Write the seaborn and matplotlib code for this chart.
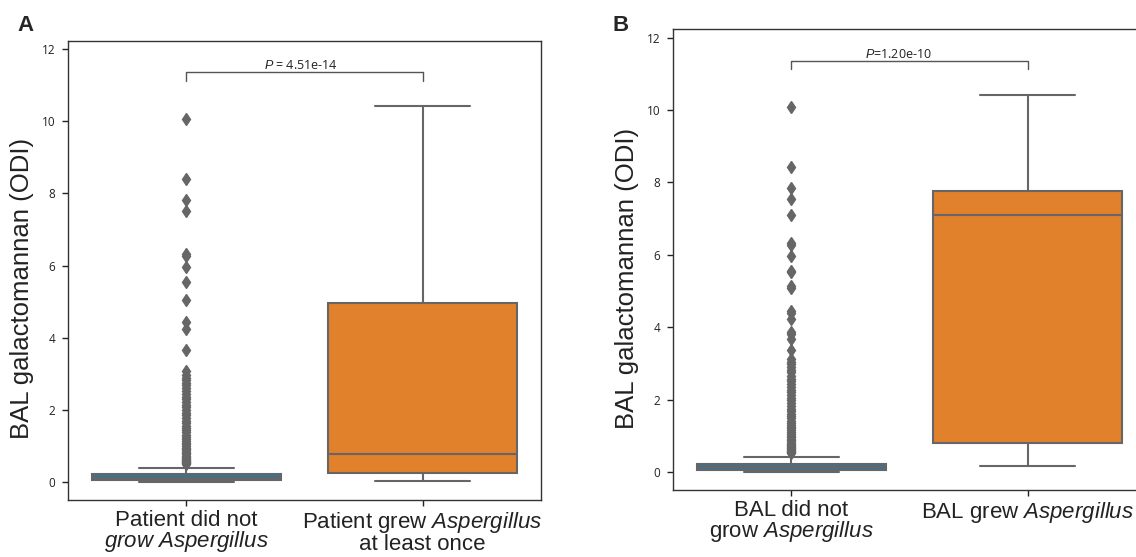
import numpy as np
import pandas as pd
import matplotlib
matplotlib.use('Agg')
import matplotlib.pyplot as plt
import seaborn as sns

sns.set_style('ticks')
plt.rcParams['font.family'] = ['Open Sans', 'DejaVu Sans']
plt.rcParams['mathtext.fontset'] = 'custom'
plt.rcParams['mathtext.rm'] = 'Liberation Sans'
plt.rcParams['mathtext.it'] = 'Liberation Sans:italic'

# ---- data (ODI values) ----
# panel A: per patient
a_labels = ['Patient did not\n$\\mathit{grow}$ $\\mathit{Aspergillus}$',
            'Patient grew $\\mathit{Aspergillus}$\nat least once']
a_neg_core_vals = [0.0, 0.02, 0.04, 0.05, 0.07, 0.09, 0.11, 0.14, 0.18, 0.22, 0.27, 0.33, 0.39]
a_neg_core_counts = [12, 30, 40, 30, 40, 40, 40, 30, 30, 30, 15, 10, 5]
a_neg_outliers = [10.07, 8.41, 7.82, 7.51, 6.32, 6.27, 5.95, 5.55, 5.04, 4.45, 4.25, 3.66,
                  3.07, 2.98, 2.9, 2.83, 2.75, 2.68, 2.6, 2.52, 2.45, 2.36, 2.3, 2.22, 2.15,
                  2.08, 2.0, 1.92, 1.85, 1.78, 1.7, 1.63, 1.55, 1.5, 1.45, 1.38, 1.32, 1.26,
                  1.2, 1.15, 1.1, 1.05, 1.0, 0.96, 0.92, 0.88, 0.84, 0.8, 0.77, 0.74, 0.71,
                  0.68, 0.65, 0.62, 0.6, 0.58, 0.56, 0.54, 0.52, 0.5]
a_pos_vals = [0.04, 0.15, 0.25, 0.45, 0.78, 2.1, 4.97, 7.2, 10.42]
a_pval = '$P$ = 4.51e-14'

# panel B: per BAL sample
b_labels = ['BAL did not\ngrow $\\mathit{Aspergillus}$',
            'BAL grew $\\mathit{Aspergillus}$']
b_neg_core_vals = [0.0, 0.02, 0.04, 0.05, 0.07, 0.1, 0.13, 0.16, 0.19, 0.23, 0.28, 0.35, 0.415]
b_neg_core_counts = [15, 40, 50, 40, 50, 50, 50, 40, 40, 40, 20, 12, 6]
b_neg_outliers = [10.08, 8.43, 7.84, 7.54, 7.1, 6.32, 6.27, 5.97, 5.56, 5.53, 5.14, 5.07,
                  4.45, 4.38, 4.23, 3.86, 3.8, 3.66, 3.37, 3.12, 3.05, 2.98, 2.9, 2.82,
                  2.75, 2.66, 2.58, 2.5, 2.42, 2.35, 2.27, 2.2, 2.12, 2.05, 1.98, 1.9,
                  1.82, 1.75, 1.68, 1.6, 1.54, 1.48, 1.42, 1.36, 1.3, 1.25, 1.2, 1.15,
                  1.1, 1.05, 1.0, 0.96, 0.92, 0.88, 0.84, 0.8, 0.77, 0.74, 0.71, 0.68,
                  0.65, 0.62, 0.6, 0.58, 0.56, 0.54, 0.52]
b_pos_vals = [0.16, 0.5, 0.8, 3.5, 7.09, 7.3, 7.75, 9.0, 10.42]
b_pval = '$P$=1.20e-10'


def make_df(labels, core_vals, core_counts, outliers, pos_vals):
    neg = np.concatenate([np.repeat(core_vals, core_counts), outliers])
    return pd.DataFrame({
        'group': [labels[0]] * len(neg) + [labels[1]] * len(pos_vals),
        'odi': np.concatenate([neg, pos_vals]),
    })


df_a = make_df(a_labels, a_neg_core_vals, a_neg_core_counts, a_neg_outliers, a_pos_vals)
df_b = make_df(b_labels, b_neg_core_vals, b_neg_core_counts, b_neg_outliers, b_pos_vals)

fig = plt.figure(figsize=(11.36, 5.57), dpi=100)
ax_a = fig.add_axes([0.0601, 0.1018, 0.4158, 0.8251])
ax_b = fig.add_axes([0.5927, 0.1203, 0.4158, 0.8271])

gray = '#666666'
for ax, df, labels, ptxt, px in [(ax_a, df_a, a_labels, a_pval, 0.486),
                                 (ax_b, df_b, b_labels, b_pval, 0.455)]:
    sns.boxplot(data=df, x='group', y='odi', hue='group', order=labels, hue_order=labels,
                legend=False, width=0.8, linecolor=gray, linewidth=1.5, fliersize=6.5,
                flierprops=dict(marker='d', markerfacecolor=gray, markeredgecolor=gray),
                ax=ax)
    ax.set_ylim(-0.5, 12.23)
    ax.set_xlim(-0.5, 1.5)
    ax.set_yticks([0, 2, 4, 6, 8, 10, 12])
    ax.tick_params(axis='y', labelsize=8.5, length=4.3, width=1, colors='#222222', pad=5)
    ax.tick_params(axis='x', labelsize=16, length=4.3, width=1, colors='#222222', pad=3)
    for lab in ax.get_xticklabels():
        lab.set_fontfamily('Liberation Sans')
        lab.set_linespacing(0.88)
    ax.set_xlabel('')
    ax.set_ylabel('BAL galactomannan (ODI)', fontsize=18.5, family='Liberation Sans', color='#222222')
    ax.yaxis.set_label_coords(-0.072, 0.46)
    for s in ax.spines.values():
        s.set_color('#333333')
        s.set_linewidth(1.0)
    # significance bracket
    ax.plot([0, 0, 1, 1], [11.12, 11.35, 11.35, 11.12], color='#555555', lw=1)
    ax.text(px, 11.45, ptxt, ha='center', va='baseline', fontsize=9, color='#222222')

fig.text(17 / 1136, 1 - 31 / 557, 'A', fontsize=16, fontweight='bold', family='Liberation Sans')
fig.text(613 / 1136, 1 - 31 / 557, 'B', fontsize=16, fontweight='bold', family='Liberation Sans')

fig.savefig('out.png', dpi=100)
